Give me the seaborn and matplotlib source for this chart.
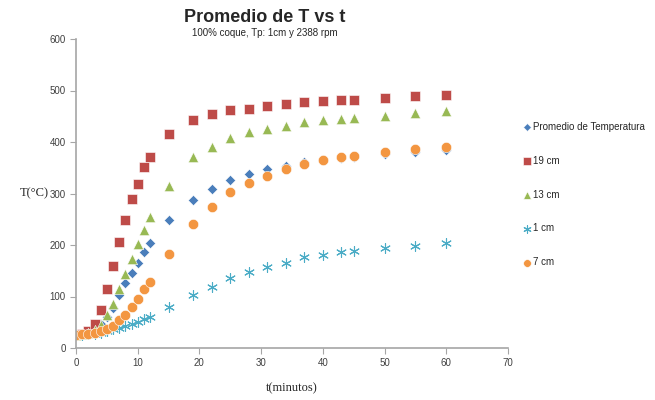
import numpy as np
import pandas as pd
import seaborn as sns
import matplotlib.pyplot as plt

# tiempos (min)
t = [0, 1, 2, 3, 4, 5, 6, 7, 8, 9, 10, 11, 12, 15, 19, 22, 25, 28, 31, 34, 37, 40, 43, 45, 50, 55, 60]

promedio = [25, 27, 31, 38, 47, 60, 77, 102, 126, 146, 166, 187, 203, 249, 287, 309, 326, 337, 348, 354, 361, 365, 368, 371, 376, 381, 384]
t_19cm = [26, 28, 33, 46, 74, 114, 159, 206, 248, 289, 318, 351, 370, 415, 443, 454, 462, 465, 470, 474, 478, 479, 481, 482, 485, 489, 492]
t_13cm = [25, 27, 30, 35, 45, 64, 85, 114, 144, 172, 201, 230, 255, 315, 370, 391, 407, 419, 425, 432, 438, 442, 445, 447, 451, 457, 460]
t_1cm = [25, 26, 27, 28, 30, 33, 36, 39, 43, 47, 51, 56, 61, 79, 102, 119, 135, 147, 157, 166, 176, 181, 186, 188, 194, 198, 203]
t_7cm = [26, 27, 28, 30, 33, 37, 43, 54, 64, 80, 95, 114, 129, 182, 241, 274, 302, 320, 334, 348, 357, 365, 370, 373, 381, 386, 391]

series = {
    "Promedio de Temperatura": promedio,
    "19 cm": t_19cm,
    "13 cm": t_13cm,
    "1 cm": t_1cm,
    "7 cm": t_7cm,
}
colors = ["#4A7EBB", "#BE4B48", "#98B954", "#4BACC6", "#F39641"]
markers = ["D", "s", "^", (6, 2, 0), "o"]
sizes = [28, 50, 55, 50, 55]

df = pd.concat(
    [pd.DataFrame({"t": t, "T": v, "serie": k}) for k, v in series.items()],
    ignore_index=True,
)

sns.set_style("white")
plt.rcParams["font.family"] = ["Liberation Sans", "DejaVu Sans"]

fig = plt.figure(figsize=(6.55, 4.0), dpi=100)
ax = fig.add_axes([76 / 655, 1 - 348 / 400, 432 / 655, 309 / 400])

for (name, _), c, m, s in zip(series.items(), colors, markers, sizes):
    sub = df[df["serie"] == name]
    if m == (6, 2, 0):
        # asterisco fino, como el marcador de Excel
        sns.scatterplot(data=sub, x="t", y="T", ax=ax, marker=m, s=s, color=c,
                        linewidth=0.8, edgecolor=c, label=name)
    else:
        sns.scatterplot(data=sub, x="t", y="T", ax=ax, marker=m, s=s, color=c,
                        edgecolor="white", linewidth=0.4, label=name)

ax.set_xlim(0, 70)
ax.set_ylim(0, 600)
ax.set_xticks(range(0, 71, 10))
ax.set_yticks(range(0, 601, 100))
for side in ["top", "right"]:
    ax.spines[side].set_visible(False)
for side in ["left", "bottom"]:
    ax.spines[side].set_color("#A6A6A6")
    ax.spines[side].set_linewidth(1.2)
ax.tick_params(axis="both", direction="out", length=4, width=0.8, color="#A6A6A6",
               labelsize=7, labelcolor="#404040", left=True, bottom=True)
ax.set_xlabel("")
ax.set_ylabel("")

fig.text(20 / 655, 1 - 193 / 400, "T(°C)", family="Liberation Serif", fontsize=9,
         ha="left", va="center")
fig.text(292 / 655, 1 - 388 / 400, "t(minutos)", family="Liberation Serif", fontsize=9,
         ha="center", va="center")
fig.text(265 / 655, 1 - 17 / 400, "Promedio de T vs t", fontsize=13, fontweight="bold",
         ha="center", va="center")
fig.text(265 / 655, 1 - 33 / 400, "100% coque, Tp: 1cm y 2388 rpm", fontsize=7,
         ha="center", va="center")

handles, labels = ax.get_legend_handles_labels()
ax.legend_.remove()
fig.legend(handles, labels, loc="upper left", bbox_to_anchor=(518 / 655, 1 - 118 / 400),
           frameon=False, fontsize=7, labelspacing=2.45, handletextpad=0.1,
           handlelength=1.0, markerscale=0.75, borderaxespad=0)

fig.savefig("out.png", dpi=100)
